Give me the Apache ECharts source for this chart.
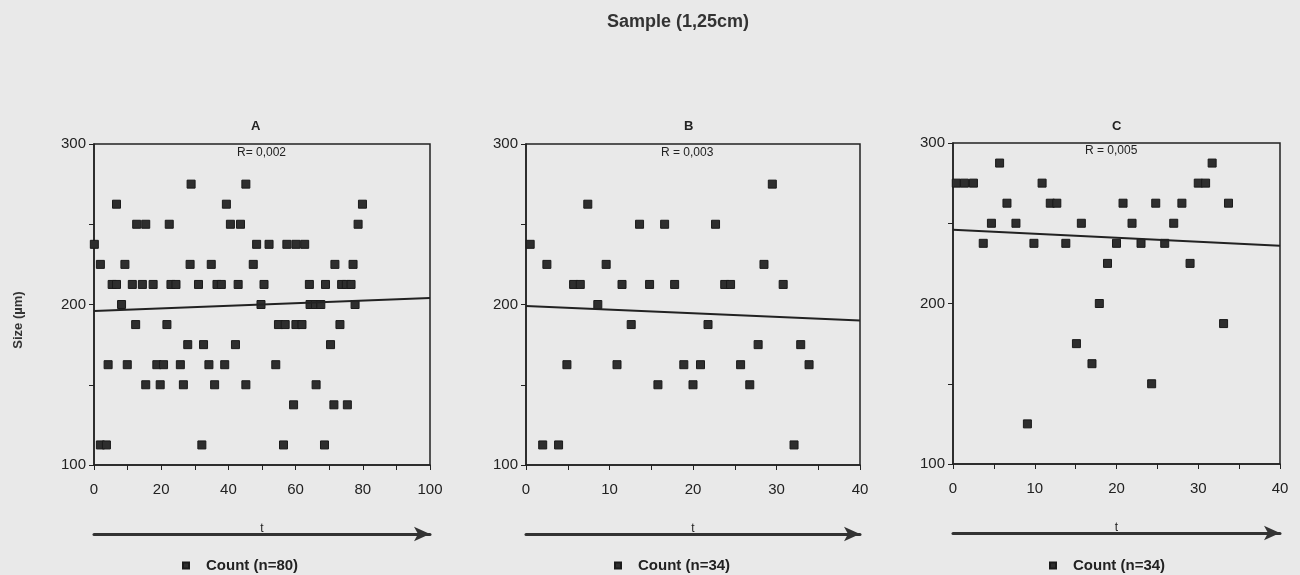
<!DOCTYPE html>
<html>
<head>
<meta charset="utf-8">
<script src="https://cdn.jsdelivr.net/npm/echarts@6/dist/echarts.min.js"></script>
<style>
  html, body { margin: 0; padding: 0; background: #e9e9e9; }
  #chart { width: 1300px; height: 575px; }
</style>
</head>
<body>
<div id="chart"></div>
<script>
// panel A, n=80  [t, size]
var aData = [
  [28.9, 275], [45.2, 275],
  [6.7, 262.5], [39.4, 262.5], [79.9, 262.5],
  [12.7, 250], [15.4, 250], [22.4, 250], [40.6, 250], [43.6, 250], [78.6, 250],
  [0.1, 237.5], [48.4, 237.5], [52.1, 237.5], [57.4, 237.5], [60.1, 237.5], [62.7, 237.5],
  [1.9, 225], [9.2, 225], [28.6, 225], [34.9, 225], [47.4, 225], [71.7, 225], [77.1, 225],
  [5.4, 212.5], [6.7, 212.5], [11.4, 212.5], [14.4, 212.5], [17.6, 212.5], [22.9, 212.5],
  [24.4, 212.5], [31.1, 212.5], [36.6, 212.5], [37.9, 212.5], [42.9, 212.5], [50.6, 212.5],
  [64.1, 212.5], [68.9, 212.5], [73.7, 212.5], [75.1, 212.5], [76.5, 212.5],
  [8.2, 200], [49.7, 200], [64.3, 200], [65.9, 200], [67.5, 200], [77.7, 200],
  [12.4, 187.5], [21.7, 187.5], [54.9, 187.5], [56.9, 187.5], [60.1, 187.5], [61.9, 187.5], [73.2, 187.5],
  [27.9, 175], [32.6, 175], [42.1, 175], [70.4, 175],
  [4.2, 162.5], [9.9, 162.5], [18.7, 162.5], [20.7, 162.5], [25.7, 162.5], [34.2, 162.5], [38.9, 162.5], [54.1, 162.5],
  [15.4, 150], [19.7, 150], [26.6, 150], [35.9, 150], [45.2, 150], [66.1, 150],
  [59.4, 137.5], [71.4, 137.5], [75.4, 137.5],
  [1.9, 112.5], [3.7, 112.5], [32.1, 112.5], [56.4, 112.5], [68.6, 112.5]
];
// panel B, n=34
var bData = [
  [29.5, 275], [7.4, 262.5],
  [13.6, 250], [16.6, 250], [22.7, 250],
  [0.5, 237.5],
  [2.5, 225], [9.6, 225], [28.5, 225],
  [5.7, 212.5], [6.5, 212.5], [11.5, 212.5], [14.8, 212.5], [17.8, 212.5], [23.8, 212.5], [24.5, 212.5], [30.8, 212.5],
  [8.6, 200],
  [12.6, 187.5], [21.8, 187.5],
  [27.8, 175], [32.9, 175],
  [4.9, 162.5], [10.9, 162.5], [18.9, 162.5], [20.9, 162.5], [25.7, 162.5], [33.9, 162.5],
  [15.8, 150], [20.0, 150], [26.8, 150],
  [2.0, 112.5], [3.9, 112.5], [32.1, 112.5]
];
// panel C, n=34
var cData = [
  [5.7, 287.5], [31.7, 287.5],
  [0.4, 275], [1.4, 275], [2.5, 275], [10.9, 275], [30.0, 275], [30.9, 275],
  [6.6, 262.5], [11.9, 262.5], [12.7, 262.5], [20.8, 262.5], [24.8, 262.5], [28.0, 262.5], [33.7, 262.5],
  [4.7, 250], [7.7, 250], [15.7, 250], [21.9, 250], [27.0, 250],
  [3.7, 237.5], [9.9, 237.5], [13.8, 237.5], [20.0, 237.5], [23.0, 237.5], [25.9, 237.5],
  [18.9, 225], [29.0, 225],
  [17.9, 200], [33.1, 187.5], [15.1, 175], [17.0, 162.5], [24.3, 150], [9.1, 125]
];
// regression lines
var aFit = [[0, 196], [100, 204]];
var bFit = [[0, 199], [40, 190]];
var cFit = [[0, 246], [40, 236]];

var panels = ['A', 'B', 'C'];
var rLabels = ['R= 0,002', 'R = 0,003', 'R = 0,005'];
var countLabels = ['Count (n=80)', 'Count (n=34)', 'Count (n=34)'];
var xMax = [100, 40, 40];
var xStep = [10, 5, 5];
var xLabelStep = [20, 10, 10];
var yLabelStep = 100;

var font = '"Liberation Sans", Arial, sans-serif';
var ink = '#222';

var grids = [
  { left: 94, top: 144, width: 336, height: 321 },
  { left: 526, top: 144, width: 334, height: 321 },
  { left: 953, top: 143, width: 327, height: 321 }
];

var xAxes = [];
var yAxes = [];
var series = [];
var legends = [];
var fits = [aFit, bFit, cFit];
var datas = [aData, bData, cData];
var legendLeft = [182, 614, 1049];

grids.forEach(function (g, i) {
  g.show = true;
  g.borderColor = ink;
  g.borderWidth = 1.5;
  g.backgroundColor = 'transparent';

  xAxes.push({
    type: 'value', gridIndex: i, min: 0, max: xMax[i], interval: xStep[i],
    name: 't', nameLocation: 'middle', nameGap: 58,
    nameTextStyle: { fontFamily: font, fontSize: 12, color: ink },
    axisLine: { lineStyle: { color: ink, width: 1.5 } },
    axisTick: { length: 5, lineStyle: { color: ink } },
    splitLine: { show: false },
    axisLabel: {
      fontFamily: font, fontSize: 15, color: ink, margin: 17,
      formatter: function (v) { return v % xLabelStep[i] === 0 ? String(v) : ''; }
    }
  });
  yAxes.push({
    type: 'value', gridIndex: i, min: 100, max: 300, interval: 50,
    axisLine: { show: true, lineStyle: { color: ink, width: 1.5 } },
    axisTick: { show: true, length: 5, lineStyle: { color: ink } },
    splitLine: { show: false },
    axisLabel: {
      fontFamily: font, fontSize: 15, color: ink, margin: 8,
      formatter: function (v) { return v % yLabelStep === 0 ? String(v) : ''; }
    }
  });

  series.push({
    name: countLabels[i], type: 'scatter', xAxisIndex: i, yAxisIndex: i,
    symbol: 'rect', symbolSize: 8,
    itemStyle: { color: '#2e2e2e', borderColor: '#1a1a1a', borderWidth: 1, opacity: 1 },
    data: datas[i], silent: true
  });
  series.push({
    name: 'fit ' + panels[i], type: 'line', xAxisIndex: i, yAxisIndex: i,
    showSymbol: false, lineStyle: { color: ink, width: 2 },
    data: fits[i], silent: true
  });

  legends.push({
    data: [{ name: countLabels[i], icon: 'rect' }],
    left: legendLeft[i], top: 558, padding: 0, itemWidth: 6, itemHeight: 6, itemGap: 16,
    textStyle: { fontFamily: font, fontSize: 15, fontWeight: 'bold', color: ink, padding: [0, 0, 0, 12] },
    selectedMode: false
  });
});

// the long "t" arrows under each panel
grids.forEach(function (g, i) {
  xAxes.push({
    type: 'value', gridIndex: i, min: 0, max: 1, position: 'bottom', offset: 69,
    axisLine: { show: true, symbol: ['none', 'arrow'], symbolSize: [11, 16], lineStyle: { color: '#333', width: 3 } },
    axisTick: { show: false }, axisLabel: { show: false }, splitLine: { show: false }
  });
});

var titles = [
  { text: 'Sample (1,25cm)', left: 607, top: 13, padding: 0,
    textStyle: { fontFamily: font, fontSize: 18, fontWeight: 'bold', color: '#333' } }
];
var letterLeft = [251, 684, 1112];
var rLeft = [237, 661, 1085];
var rTop = [147, 147, 145];
panels.forEach(function (p, i) {
  titles.push({ text: p, left: letterLeft[i], top: 120, padding: 0,
    textStyle: { fontFamily: font, fontSize: 13, fontWeight: 'bold', color: ink } });
  titles.push({ text: rLabels[i], left: rLeft[i], top: rTop[i], padding: 0,
    textStyle: { fontFamily: font, fontSize: 12, fontWeight: 'normal', color: ink } });
});

var myChart = echarts.init(document.getElementById('chart'));
myChart.setOption({
  backgroundColor: '#e9e9e9',
  animation: false,
  title: titles,
  legend: legends,
  grid: grids,
  xAxis: xAxes,
  yAxis: yAxes,
  graphic: [{
    type: 'text', x: 18, y: 320, rotation: Math.PI / 2,
    style: { text: 'Size (µm)', fontFamily: font, fontSize: 13, fontWeight: 'bold', fill: '#333',
      align: 'center', verticalAlign: 'middle' }
  }],
  series: series
});
</script>
</body>
</html>
